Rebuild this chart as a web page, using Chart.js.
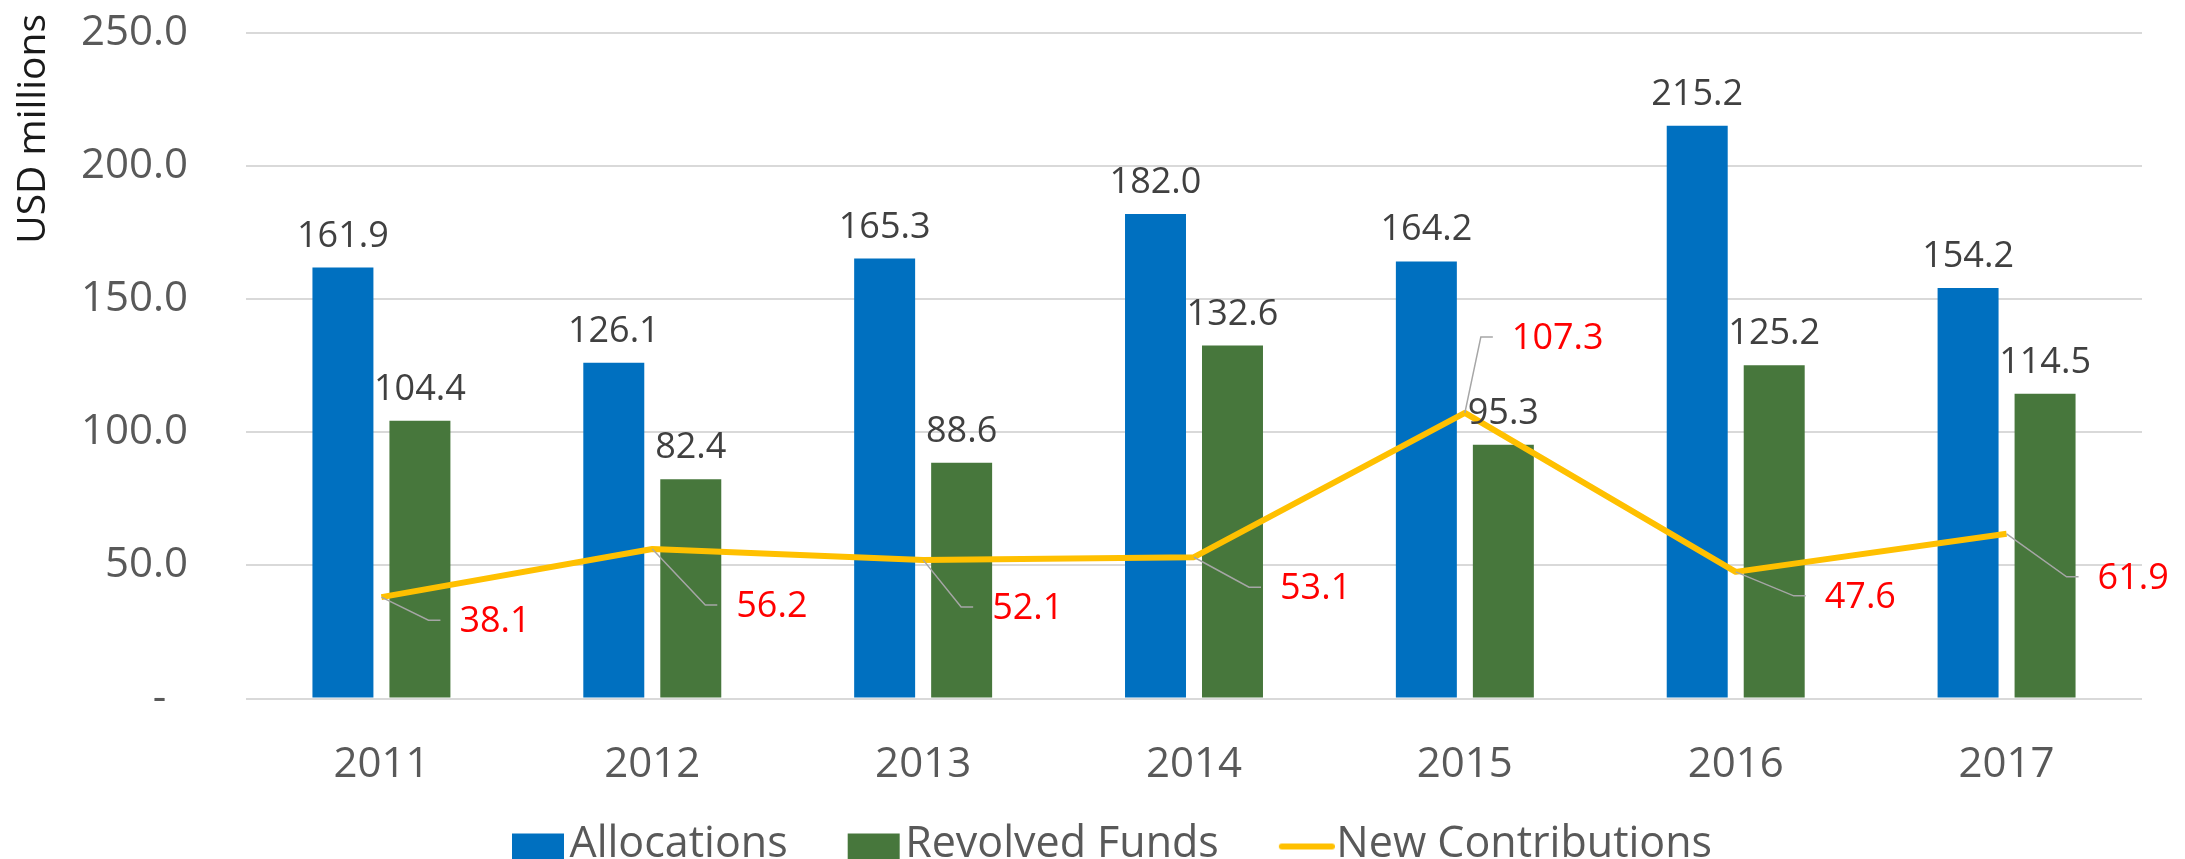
<!DOCTYPE html>
<html>
<head>
<meta charset="utf-8">
<script src="https://cdn.jsdelivr.net/npm/chart.js@4/dist/chart.umd.min.js"></script>
<style>
  html, body { margin: 0; padding: 0; background: #fff; overflow: hidden; }
  #wrap { width: 2185px; height: 876px; position: relative; }
</style>
</head>
<body>
<div id="wrap"><canvas id="chart"></canvas></div>
<script>
// ------------ data ------------
const years = ["2011", "2012", "2013", "2014", "2015", "2016", "2017"];
const allocations = [161.9, 126.1, 165.3, 182.0, 164.2, 215.2, 154.2];
const revolvedFunds = [104.4, 82.4, 88.6, 132.6, 95.3, 125.2, 114.5];
const newContributions = [38.1, 56.2, 52.1, 53.1, 107.3, 47.6, 61.9];
const yTicks = [0, 50, 100, 150, 200, 250];

// where the red labels of the line sit, relative to their point (px)
const lineLabelOffsets = [[78, 25], [84, 58], [69, 49], [86, 32], [47, -74], [89, 26], [91, 45]];

const FONT = "'Open Sans', sans-serif";
const BLUE = "#0070c0", GREEN = "#47773c", GOLD = "#ffc000";

// legend markers drawn as small canvases (the blank left part makes the gap between items)
function makeMarker(kind, color) {
  const c = document.createElement("canvas");
  c.width = 136; c.height = 82;
  const g = c.getContext("2d");
  if (kind === "box") {
    g.fillStyle = color;
    g.fillRect(80, 30, 52, 52);
  } else {
    g.strokeStyle = color;
    g.lineWidth = 6;
    g.lineCap = "round";
    g.beginPath();
    g.moveTo(83, 43);
    g.lineTo(133, 43);
    g.stroke();
  }
  return c;
}
const markers = [makeMarker("box", BLUE), makeMarker("box", GREEN), makeMarker("line", GOLD)];

// value labels + leader lines + y title
const labelPlugin = {
  id: "labels",
  afterDatasetsDraw(chart) {
    const ctx = chart.ctx;
    ctx.save();
    ctx.font = "36px " + FONT;
    ctx.textAlign = "center";
    ctx.textBaseline = "alphabetic";
    ctx.fillStyle = "#404040";
    [0, 1].forEach(di => {
      chart.getDatasetMeta(di).data.forEach((bar, i) => {
        const v = chart.data.datasets[di].data[i];
        ctx.fillText(v.toFixed(1), bar.x, bar.y - 21);
      });
    });

    const pts = chart.getDatasetMeta(2).data;
    ctx.textAlign = "left";
    ctx.textBaseline = "middle";
    pts.forEach((p, i) => {
      const [dx, dy] = lineLabelOffsets[i];
      const lx = p.x + dx, ly = p.y + dy;
      ctx.strokeStyle = "#a6a6a6";
      ctx.lineWidth = 1.5;
      ctx.beginPath();
      ctx.moveTo(p.x, p.y);
      ctx.lineTo(lx - 31, ly - 2);
      ctx.lineTo(lx - 19, ly - 2);
      ctx.stroke();
      ctx.fillStyle = "#ff0000";
      ctx.fillText(newContributions[i].toFixed(1), lx, ly);
    });

    ctx.translate(34, 14);
    ctx.rotate(-Math.PI / 2);
    ctx.font = "39px " + FONT;
    ctx.fillStyle = "#1a1a1a";
    ctx.textAlign = "right";
    ctx.textBaseline = "middle";
    ctx.fillText("USD millions", 0, 0);
    ctx.restore();
  }
};

new Chart(document.getElementById("chart"), {
  type: "bar",
  data: {
    labels: years,
    datasets: [
      { label: "Allocations", data: allocations, backgroundColor: BLUE, order: 1,
        categoryPercentage: 0.5685, barPercentage: 0.792 },
      { label: "Revolved Funds", data: revolvedFunds, backgroundColor: GREEN, order: 1,
        categoryPercentage: 0.5685, barPercentage: 0.792 },
      { label: "New Contributions", data: newContributions, type: "line", order: 0,
        borderColor: GOLD, backgroundColor: GOLD, borderWidth: 6, pointRadius: 0,
        tension: 0, borderJoinStyle: "round" }
    ]
  },
  options: {
    responsive: true,
    maintainAspectRatio: false,
    animation: false,
    layout: { padding: { left: 22, right: 43, top: 33, bottom: 0 } },
    plugins: {
      tooltip: { enabled: false },
      legend: {
        position: "bottom",
        labels: {
          usePointStyle: true,
          pointStyleWidth: 96,
          padding: 0,
          color: "#595959",
          font: { family: FONT, size: 43 },
          generateLabels(chart) {
            const items = Chart.defaults.plugins.legend.labels.generateLabels(chart);
            items.sort((a, b) => a.datasetIndex - b.datasetIndex);
            items.forEach(it => { it.pointStyle = markers[it.datasetIndex]; it.rotation = 0; });
            return items;
          }
        }
      }
    },
    scales: {
      x: {
        grid: { display: false },
        border: { display: false },
        ticks: { color: "#595959", font: { family: FONT, size: 42 }, padding: 33 }
      },
      y: {
        min: 0,
        max: 250,
        afterBuildTicks(scale) { scale.ticks = yTicks.map(v => ({ value: v })); },
        afterFit(scale) {
          scale.width = 224;
          scale.paddingTop = 0;
          scale.paddingBottom = 0;
        },
        grid: { color: "#d9d9d9", lineWidth: 2, drawTicks: false },
        border: { display: false },
        ticks: {
          color: "#595959",
          font: { family: FONT, size: 42 },
          padding: 58,
          callback: v => (v === 0 ? "-  " : v.toFixed(1))
        }
      }
    }
  },
  plugins: [labelPlugin]
});
</script>
</body>
</html>
